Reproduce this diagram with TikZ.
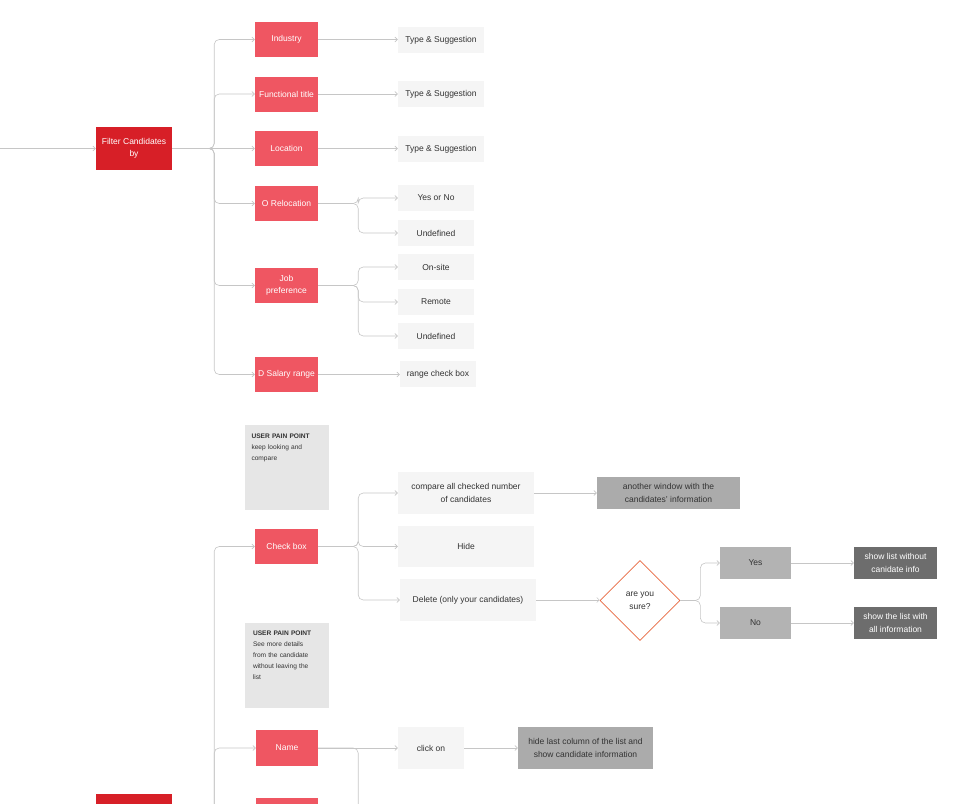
\documentclass[tikz,border=0pt]{standalone}
\usepackage{fontspec}
\setmainfont{Liberation Sans}
\usetikzlibrary{arrows.meta,shapes.geometric}

\definecolor{filterred}{HTML}{D71F27}
\definecolor{optpink}{HTML}{EF5662}
\definecolor{choicegrey}{HTML}{F5F5F5}
\definecolor{paingrey}{HTML}{E6E6E6}
\definecolor{resultgrey}{HTML}{ABABAB}
\definecolor{endgrey}{HTML}{6D6D6D}
\definecolor{askorange}{HTML}{E8663F}
\definecolor{linkgrey}{HTML}{C6C6C6}
\definecolor{textdark}{HTML}{333333}

\begin{document}
\begin{tikzpicture}[x=1pt,y=-1pt,
        box/.style={inner sep=0pt,align=center,font=\fontsize{8.5}{12.5}\selectfont},
        filterbox/.style={box,fill=filterred,text=white,minimum width=76pt,minimum height=43pt},
        optbox/.style={box,fill=optpink,text=white,minimum width=63pt,minimum height=35pt},
        choice/.style={box,fill=choicegrey,text=textdark,minimum height=26pt},
        action/.style={box,fill=choicegrey,text=textdark,minimum height=42pt},
        result/.style={box,fill=resultgrey,text=textdark,minimum height=32pt},
        outcome/.style={box,fill=endgrey,text=white,minimum height=32pt},
        askbox/.style={box,diamond,draw=askorange,line width=0.7pt,fill=white,text=textdark,minimum size=80pt},
        painbox/.style={fill=paingrey,inner sep=0pt,minimum width=84pt,minimum height=85pt},
        paintext/.style={anchor=north west,inner sep=0pt,align=left,text width=74pt,text=textdark,font=\fontsize{6.6}{11}\selectfont},
        link/.style={draw=linkgrey,line width=0.6pt,rounded corners=5pt,-{Straight Barb[length=2.5pt,width=5pt]}}]
        \useasboundingbox (0,0) rectangle (965,803);
        \clip (0,0) rectangle (965,803);

        % filter candidates
        \coordinate (prev) at (-5,148.5);
        \node[filterbox] (filter) at (134,148.5) {Filter Candidates\\by};
        \node[optbox] (industry) at (286.5,39.5) {Industry};
        \node[optbox] (functitle) at (286.5,94) {Functional title};
        \node[optbox] (location) at (286.5,148.5) {Location};
        \node[optbox] (reloc) at (286.5,203.5) {O Relocation};
        \node[optbox] (jobpref) at (286.5,285.5) {Job\\preference};
        \node[optbox] (salary) at (286.5,374.5) {D Salary range};

        \node[choice,minimum width=86pt] (type1) at (441,40) {Type \& Suggestion};
        \node[choice,minimum width=86pt] (type2) at (441,94) {Type \& Suggestion};
        \node[choice,minimum width=86pt] (type3) at (441,149) {Type \& Suggestion};
        \node[choice,minimum width=76pt] (yesno) at (436,198) {Yes or No};
        \node[choice,minimum width=76pt] (undef1) at (436,233) {Undefined};
        \node[choice,minimum width=76pt] (onsite) at (436,267) {On-site};
        \node[choice,minimum width=76pt] (remote) at (436,302) {Remote};
        \node[choice,minimum width=76pt] (undef2) at (436,336) {Undefined};
        \node[choice,minimum width=76pt] (range) at (438,374) {range check box};

        \draw[link] (prev) -- (filter.west);
        \foreach \opt in {industry,functitle,reloc,jobpref,salary}
            \draw[link] (filter.east) -- ++(42,0) |- (\opt.west);
        \draw[link] (filter.east) -- (location.west);
        \draw[link] (industry.east) -- (industry.east -| type1.west);
        \draw[link] (functitle.east) -- (functitle.east -| type2.west);
        \draw[link] (location.east) -- (location.east -| type3.west);
        \foreach \ch in {yesno,undef1}
            \draw[link] (reloc.east) -- ++(40,0) |- (\ch.west);
        \foreach \ch in {onsite,remote,undef2}
            \draw[link] (jobpref.east) -- ++(40,0) |- (\ch.west);
        \draw[link] (salary.east) -- (salary.east -| range.west);

        % list actions
        \node[painbox] (pain1) at (286.5,467.5) {};
        \node[paintext] at ([shift={(7,9)}]pain1.north west) {\textbf{USER PAIN POINT}\\keep looking and\\compare};
        \node[painbox] (pain2) at (287,665) {};
        \node[paintext] at ([shift={(8,8)}]pain2.north west) {\textbf{USER PAIN POINT}\\See more details\\from the candidate\\without leaving the\\list};

        \node[filterbox] (bfilter) at (134,815.5) {};
        \node[optbox] (checkbox) at (286.5,546.5) {Check box};
        \node[optbox,minimum width=62pt,minimum height=36pt] (name) at (287,748) {Name};
        \node[optbox,minimum width=62pt] (bopt) at (287,815.5) {};

        \node[action,minimum width=136pt] (compare) at (466,493) {compare all checked number\\of candidates};
        \node[action,minimum width=136pt,minimum height=41pt] (hide) at (466,546.5) {Hide};
        \node[action,minimum width=136pt] (delete) at (468,600) {Delete (only your candidates)};
        \node[result,minimum width=143pt] (window) at (668.5,493) {another window with the\\candidates' information};
        \node[askbox] (ask) at (640,600.5) {are you\\sure?};
        \node[result,minimum width=71pt,fill=resultgrey!90!white] (yes) at (755.5,563) {Yes};
        \node[result,minimum width=71pt,fill=resultgrey!90!white] (no) at (755.5,623) {No};
        \node[outcome,minimum width=83pt] (nocand) at (895.5,563) {show list without\\canidate info};
        \node[outcome,minimum width=83pt] (allinfo) at (895.5,623) {show the list with\\all information};

        \node[action,minimum width=66pt] (clickon) at (431,748) {click on};
        \node[result,minimum width=135pt,minimum height=42pt] (hidecol) at (585.5,748) {hide last column of the list and\\show candidate information};
        \coordinate (namenext) at (398,830);

        \foreach \opt in {checkbox,name}
            \draw[link] (bfilter.east) -- ++(42,0) |- (\opt.west);
        \draw[link] (bfilter.east) -- (bopt.west);
        \foreach \ch in {compare,hide,delete}
            \draw[link] (checkbox.east) -- ++(40,0) |- (\ch.west);
        \draw[link] (compare.east) -- (compare.east -| window.west);
        \draw[link] (delete.east) -- (delete.east -| ask.west);
        \foreach \ch in {yes,no}
            \draw[link] (ask.east) -- ++(20,0) |- (\ch.west);
        \draw[link] (yes.east) -- (nocand.west);
        \draw[link] (no.east) -- (allinfo.west);
        \draw[link] (name.east) -- (clickon.west);
        \draw[link] (name.east) -- ++(40,0) |- (namenext);
        \draw[link] (clickon.east) -- (hidecol.west);
\end{tikzpicture}
\end{document}
